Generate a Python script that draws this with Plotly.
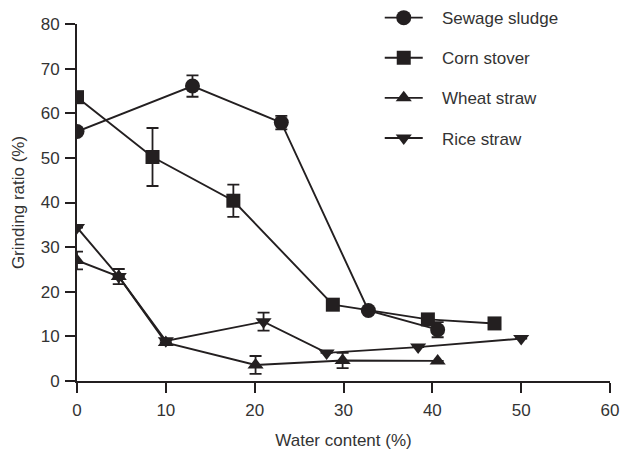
import plotly.graph_objects as go

sludge_x = [0, 13.0, 23.0, 32.8, 40.6]
sludge_y = [55.9, 66.1, 57.9, 15.8, 11.5]
sludge_err = [0, 2.4, 1.5, 0, 1.7]

corn_x = [0, 8.5, 17.6, 28.8, 39.5, 47.0]
corn_y = [63.6, 50.2, 40.4, 17.1, 13.8, 12.9]
corn_err = [0, 6.5, 3.6, 0, 0, 0]

wheat_x = [0, 4.7, 10.0, 20.1, 29.9, 40.6]
wheat_y = [27.0, 23.4, 8.6, 3.6, 4.6, 4.5]
wheat_err = [2.0, 1.7, 0, 2.0, 1.7, 0]

rice_x = [0, 4.7, 10.0, 21.0, 28.1, 38.4, 50.0]
rice_y = [34.4, 23.4, 9.0, 13.3, 6.3, 7.6, 9.5]
rice_err = [0, 0, 0, 2.0, 0, 0, 0]

x_ticks = [0, 10, 20, 30, 40, 50, 60]
y_ticks = [0, 10, 20, 30, 40, 50, 60, 70, 80]

ink = "#231f20"
txt = "#333333"
pad = "\u00a0" * 3
series = [
    ("Sewage sludge", sludge_x, sludge_y, sludge_err, "circle", 15),
    ("Corn stover", corn_x, corn_y, corn_err, "square", 14),
    ("Wheat straw", wheat_x, wheat_y, wheat_err, "triangle-up", 14),
    ("Rice straw", rice_x, rice_y, rice_err, "triangle-down", 14),
]

fig = go.Figure()
for i, (name, xs, ys, es, sym, sz) in enumerate(series):
    fig.add_trace(go.Scatter(
        x=xs, y=ys, name=pad + name, mode="lines+markers",
        line=dict(color=ink, width=1.9),
        marker=dict(symbol=sym, size=sz, color=ink, line=dict(width=0)),
        error_y=dict(type="data", array=es, visible=True, color=ink,
                     thickness=1.8, width=6),
        legendgroup=f"g{i}",
    ))

font = dict(family="Liberation Sans, Arial, sans-serif", size=17, color=txt)
axis_common = dict(ticks="outside", ticklen=10, tickwidth=2, tickcolor=ink,
                   showline=True, linecolor=ink, linewidth=2, showgrid=False,
                   zeroline=False, tickfont=font, automargin=False)
fig.update_layout(
    width=621, height=452,
    margin=dict(l=77, r=11, t=24, b=71, autoexpand=False),
    paper_bgcolor="white", plot_bgcolor="white",
    font=font,
    showlegend=True,
    legend=dict(x=0.568, y=1.067, xanchor="left", yanchor="top",
                font=font, tracegroupgap=15, itemwidth=38,
                bgcolor="rgba(0,0,0,0)"),
    xaxis=dict(range=[0, 60], tickvals=x_ticks, ticklabelstandoff=3,
               title=dict(text="Water content (%)", standoff=15, font=font),
               **axis_common),
    yaxis=dict(range=[0, 80], tickvals=y_ticks, ticklabelstandoff=2,
               title=dict(text="Grinding ratio (%)", standoff=12, font=font),
               **axis_common),
)
fig.write_html("out.html")
